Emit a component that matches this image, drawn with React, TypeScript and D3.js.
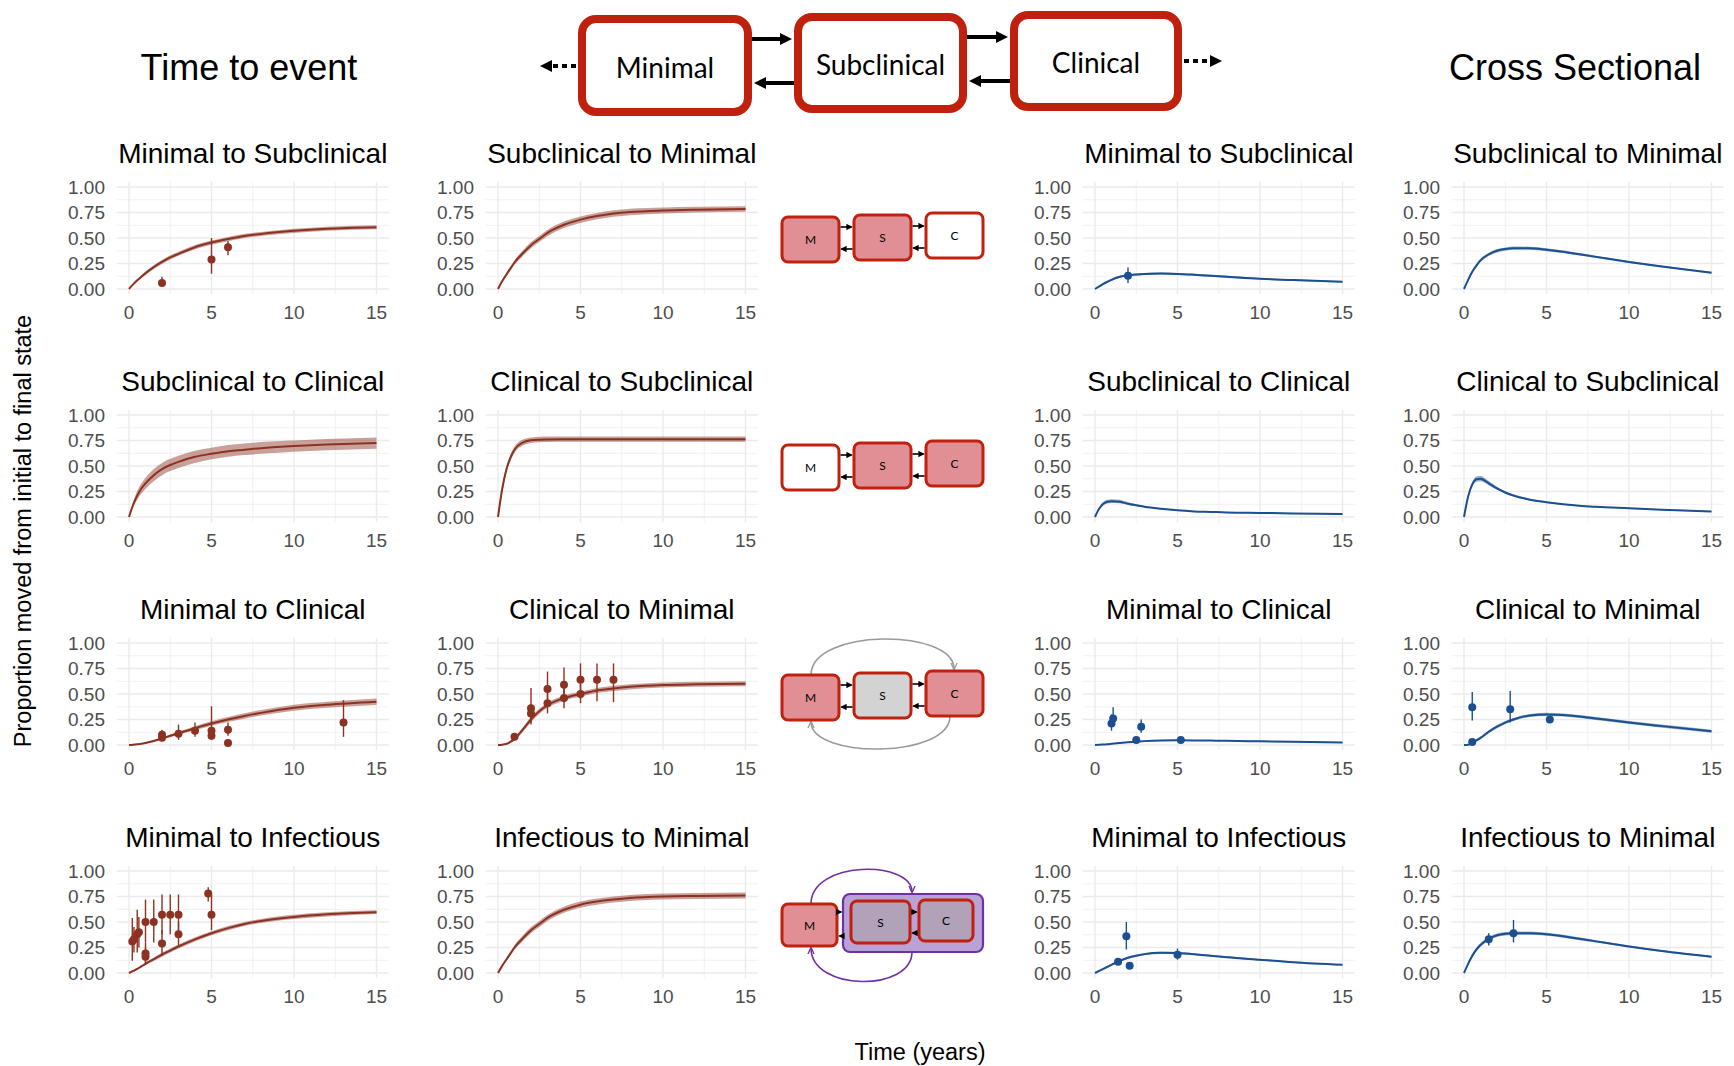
import React from 'react';
import * as d3 from 'd3';

// ---------- data ----------
const tGrid = [0, 0.25, 0.5, 0.75, 1, 1.5, 2, 2.5, 3, 4, 5, 6, 7, 8, 10, 12, 15];
const xTicks = [0, 5, 10, 15];
const yTicks = [0, 0.25, 0.5, 0.75, 1];
const yTickLabels = ['0.00', '0.25', '0.50', '0.75', '1.00'];

// Time to event (red)
const fitMinSubTTE = [0, 0.045, 0.085, 0.12, 0.155, 0.215, 0.265, 0.31, 0.345, 0.41, 0.455, 0.49, 0.52, 0.54, 0.57, 0.59, 0.605];
const loMinSubTTE = [0, 0.038, 0.073, 0.105, 0.137, 0.196, 0.246, 0.29, 0.325, 0.389, 0.434, 0.469, 0.499, 0.52, 0.55, 0.57, 0.585];
const hiMinSubTTE = [0, 0.052, 0.097, 0.135, 0.173, 0.234, 0.284, 0.33, 0.365, 0.431, 0.476, 0.511, 0.541, 0.56, 0.59, 0.61, 0.625];
const ptsMinSubTTE = [[2, 0.06, 0.02, 0.12], [5, 0.29, 0.15, 0.5], [6, 0.41, 0.33, 0.47]];

const fitSubMinTTE = [0, 0.075, 0.14, 0.2, 0.26, 0.35, 0.43, 0.49, 0.55, 0.63, 0.68, 0.715, 0.74, 0.755, 0.77, 0.778, 0.785];
const loSubMinTTE = [0, 0.066, 0.125, 0.182, 0.237, 0.322, 0.4, 0.46, 0.518, 0.598, 0.648, 0.684, 0.709, 0.724, 0.741, 0.75, 0.758];
const hiSubMinTTE = [0, 0.084, 0.155, 0.218, 0.283, 0.378, 0.46, 0.52, 0.582, 0.662, 0.712, 0.746, 0.771, 0.786, 0.799, 0.806, 0.812];

const fitSubClinTTE = [0, 0.12, 0.21, 0.28, 0.33, 0.41, 0.47, 0.51, 0.54, 0.59, 0.62, 0.645, 0.66, 0.675, 0.695, 0.71, 0.725];
const loSubClinTTE = [0, 0.095, 0.17, 0.23, 0.275, 0.35, 0.41, 0.45, 0.48, 0.53, 0.565, 0.59, 0.607, 0.62, 0.64, 0.655, 0.67];
const hiSubClinTTE = [0, 0.15, 0.255, 0.33, 0.385, 0.47, 0.53, 0.57, 0.6, 0.65, 0.68, 0.705, 0.72, 0.735, 0.75, 0.765, 0.78];

const fitClinSubTTE = [0, 0.27, 0.46, 0.58, 0.66, 0.73, 0.752, 0.758, 0.76, 0.762, 0.762, 0.762, 0.762, 0.762, 0.762, 0.762, 0.762];
const loClinSubTTE = [0, 0.24, 0.43, 0.55, 0.63, 0.7, 0.725, 0.733, 0.735, 0.737, 0.737, 0.737, 0.737, 0.737, 0.737, 0.737, 0.737];
const hiClinSubTTE = [0, 0.3, 0.49, 0.61, 0.69, 0.76, 0.78, 0.786, 0.788, 0.79, 0.79, 0.79, 0.79, 0.79, 0.79, 0.79, 0.79];

const fitMinClinTTE = [0, 0.003, 0.007, 0.012, 0.02, 0.04, 0.065, 0.09, 0.115, 0.165, 0.21, 0.25, 0.285, 0.315, 0.365, 0.395, 0.425];
const loMinClinTTE = [0, 0.002, 0.005, 0.009, 0.015, 0.032, 0.055, 0.077, 0.1, 0.145, 0.188, 0.226, 0.258, 0.288, 0.335, 0.365, 0.393];
const hiMinClinTTE = [0, 0.004, 0.009, 0.015, 0.025, 0.048, 0.075, 0.103, 0.13, 0.185, 0.232, 0.274, 0.312, 0.342, 0.395, 0.425, 0.457];
const ptsMinClinTTE = [
  [2, 0.1, 0.05, 0.15], [2, 0.07, 0.04, 0.11], [3, 0.11, 0.05, 0.2], [4, 0.14, 0.08, 0.22],
  [5, 0.14, 0.05, 0.38], [5, 0.09, 0.05, 0.14], [6, 0.15, 0.09, 0.22], [6, 0.02, 0.0, 0.04], [13, 0.22, 0.08, 0.44],
];

const fitClinMinTTE = [0, 0.003, 0.01, 0.03, 0.06, 0.15, 0.25, 0.33, 0.39, 0.46, 0.5, 0.535, 0.555, 0.57, 0.588, 0.595, 0.6];
const loClinMinTTE = [0, 0.002, 0.007, 0.022, 0.045, 0.128, 0.225, 0.305, 0.365, 0.435, 0.475, 0.51, 0.53, 0.545, 0.563, 0.57, 0.575];
const hiClinMinTTE = [0, 0.004, 0.013, 0.038, 0.075, 0.172, 0.275, 0.355, 0.415, 0.485, 0.525, 0.56, 0.58, 0.595, 0.613, 0.62, 0.625];
const ptsClinMinTTE = [
  [1, 0.08, 0.05, 0.11], [2, 0.36, 0.2, 0.56], [2, 0.31, 0.22, 0.4], [3, 0.55, 0.38, 0.72], [3, 0.41, 0.31, 0.52],
  [4, 0.59, 0.42, 0.76], [4, 0.46, 0.36, 0.56], [5, 0.64, 0.45, 0.8], [5, 0.5, 0.41, 0.6], [6, 0.64, 0.43, 0.8], [7, 0.64, 0.42, 0.8],
];

const fitMinInfTTE = [0, 0.02, 0.04, 0.065, 0.09, 0.135, 0.18, 0.22, 0.26, 0.33, 0.39, 0.44, 0.48, 0.51, 0.55, 0.575, 0.595];
const loMinInfTTE = [0, 0.015, 0.032, 0.055, 0.077, 0.118, 0.16, 0.2, 0.24, 0.31, 0.37, 0.42, 0.46, 0.49, 0.53, 0.555, 0.578];
const hiMinInfTTE = [0, 0.025, 0.048, 0.075, 0.103, 0.152, 0.2, 0.24, 0.28, 0.35, 0.41, 0.46, 0.5, 0.53, 0.57, 0.595, 0.615];
const ptsMinInfTTE = [
  [0.2, 0.31, 0.12, 0.54], [0.3, 0.33, 0.2, 0.45], [0.5, 0.38, 0.2, 0.62], [0.6, 0.4, 0.25, 0.55],
  [1.0, 0.5, 0.3, 0.72], [1.0, 0.19, 0.1, 0.3], [1.0, 0.16, 0.09, 0.25], [1.5, 0.5, 0.3, 0.72],
  [2.0, 0.57, 0.38, 0.77], [2.0, 0.29, 0.17, 0.42], [2.5, 0.57, 0.38, 0.77], [3.0, 0.57, 0.38, 0.77],
  [3.0, 0.38, 0.27, 0.5], [4.8, 0.78, 0.7, 0.84], [5.0, 0.57, 0.42, 0.77],
];

const fitInfMinTTE = [0, 0.07, 0.13, 0.19, 0.25, 0.34, 0.42, 0.48, 0.54, 0.62, 0.67, 0.7, 0.72, 0.735, 0.75, 0.755, 0.76];
const loInfMinTTE = [0, 0.062, 0.118, 0.172, 0.228, 0.312, 0.39, 0.45, 0.51, 0.59, 0.64, 0.67, 0.69, 0.705, 0.72, 0.725, 0.73];
const hiInfMinTTE = [0, 0.078, 0.142, 0.208, 0.272, 0.368, 0.45, 0.51, 0.57, 0.65, 0.7, 0.73, 0.75, 0.765, 0.78, 0.785, 0.79];

// Cross sectional (blue)
const fitMinSubCS = [0, 0.025, 0.05, 0.07, 0.09, 0.12, 0.135, 0.143, 0.148, 0.151, 0.148, 0.14, 0.13, 0.12, 0.1, 0.088, 0.07];
const loMinSubCS = [0, 0.018, 0.04, 0.06, 0.08, 0.11, 0.125, 0.133, 0.138, 0.141, 0.138, 0.131, 0.121, 0.111, 0.092, 0.08, 0.063];
const hiMinSubCS = [0, 0.032, 0.06, 0.08, 0.1, 0.13, 0.145, 0.153, 0.158, 0.161, 0.158, 0.149, 0.139, 0.129, 0.108, 0.096, 0.077];
const ptsMinSubCS = [[2, 0.13, 0.06, 0.21]];

const fitSubMinCS = [0, 0.09, 0.17, 0.23, 0.28, 0.34, 0.375, 0.392, 0.4, 0.4, 0.385, 0.365, 0.34, 0.315, 0.265, 0.22, 0.16];
const loSubMinCS = [0, 0.08, 0.155, 0.214, 0.264, 0.324, 0.359, 0.376, 0.384, 0.385, 0.371, 0.352, 0.328, 0.304, 0.255, 0.211, 0.152];
const hiSubMinCS = [0, 0.1, 0.185, 0.246, 0.296, 0.356, 0.391, 0.408, 0.416, 0.415, 0.399, 0.378, 0.352, 0.326, 0.275, 0.229, 0.168];

const fitSubClinCS = [0, 0.08, 0.13, 0.15, 0.155, 0.15, 0.13, 0.115, 0.1, 0.08, 0.065, 0.055, 0.05, 0.045, 0.04, 0.035, 0.03];
const loSubClinCS = [0, 0.068, 0.113, 0.132, 0.137, 0.134, 0.118, 0.105, 0.092, 0.074, 0.06, 0.051, 0.046, 0.042, 0.037, 0.032, 0.027];
const hiSubClinCS = [0, 0.092, 0.147, 0.17, 0.175, 0.168, 0.144, 0.126, 0.109, 0.087, 0.071, 0.059, 0.054, 0.048, 0.043, 0.038, 0.033];

const fitClinSubCS = [0, 0.2, 0.32, 0.37, 0.375, 0.33, 0.28, 0.24, 0.21, 0.17, 0.145, 0.125, 0.11, 0.1, 0.085, 0.07, 0.055];
const loClinSubCS = [0, 0.183, 0.297, 0.346, 0.351, 0.312, 0.266, 0.229, 0.2, 0.162, 0.138, 0.119, 0.104, 0.095, 0.08, 0.066, 0.051];
const hiClinSubCS = [0, 0.217, 0.343, 0.398, 0.402, 0.352, 0.296, 0.252, 0.222, 0.18, 0.153, 0.132, 0.116, 0.106, 0.09, 0.075, 0.06];

const fitMinClinCS = [0, 0.002, 0.005, 0.008, 0.012, 0.02, 0.027, 0.033, 0.038, 0.044, 0.046, 0.045, 0.043, 0.041, 0.036, 0.031, 0.025];
const loMinClinCS = [0, 0.0, 0.002, 0.004, 0.007, 0.015, 0.022, 0.028, 0.033, 0.039, 0.041, 0.04, 0.038, 0.036, 0.031, 0.026, 0.02];
const hiMinClinCS = [0, 0.004, 0.008, 0.012, 0.017, 0.025, 0.032, 0.038, 0.043, 0.049, 0.051, 0.05, 0.048, 0.046, 0.041, 0.036, 0.03];
const ptsMinClinCS = [[1.0, 0.21, 0.14, 0.3], [1.1, 0.26, 0.18, 0.37], [2.5, 0.05, 0.02, 0.08], [2.8, 0.18, 0.12, 0.25], [5.2, 0.05, 0.03, 0.07]];

const fitClinMinCS = [0, 0.003, 0.02, 0.045, 0.07, 0.13, 0.18, 0.22, 0.25, 0.29, 0.3, 0.295, 0.28, 0.26, 0.22, 0.185, 0.135];
const loClinMinCS = [0, 0.0, 0.01, 0.032, 0.056, 0.115, 0.165, 0.205, 0.235, 0.275, 0.285, 0.28, 0.265, 0.245, 0.205, 0.17, 0.12];
const hiClinMinCS = [0, 0.006, 0.03, 0.058, 0.084, 0.145, 0.195, 0.235, 0.265, 0.305, 0.315, 0.31, 0.295, 0.275, 0.235, 0.2, 0.15];
const ptsClinMinCS = [[0.5, 0.37, 0.24, 0.52], [0.5, 0.03, 0.0, 0.06], [2.8, 0.35, 0.22, 0.53], [5.2, 0.25, 0.23, 0.27]];

const fitMinInfCS = [0, 0.02, 0.04, 0.06, 0.08, 0.12, 0.15, 0.17, 0.185, 0.198, 0.195, 0.185, 0.17, 0.155, 0.13, 0.105, 0.08];
const loMinInfCS = [0, 0.014, 0.031, 0.05, 0.07, 0.109, 0.139, 0.159, 0.174, 0.187, 0.185, 0.176, 0.162, 0.147, 0.123, 0.098, 0.073];
const hiMinInfCS = [0, 0.026, 0.049, 0.07, 0.09, 0.131, 0.161, 0.181, 0.196, 0.209, 0.205, 0.194, 0.178, 0.163, 0.137, 0.112, 0.087];
const ptsMinInfCS = [[1.4, 0.11, 0.08, 0.14], [1.9, 0.36, 0.23, 0.5], [2.1, 0.07, 0.05, 0.09], [5.0, 0.18, 0.13, 0.24]];

const fitInfMinCS = [0, 0.09, 0.17, 0.23, 0.275, 0.335, 0.37, 0.385, 0.39, 0.39, 0.38, 0.36, 0.335, 0.31, 0.26, 0.215, 0.16];
const loInfMinCS = [0, 0.078, 0.153, 0.212, 0.257, 0.317, 0.352, 0.368, 0.373, 0.374, 0.365, 0.346, 0.322, 0.298, 0.25, 0.206, 0.152];
const hiInfMinCS = [0, 0.102, 0.187, 0.248, 0.293, 0.353, 0.388, 0.402, 0.407, 0.406, 0.395, 0.374, 0.348, 0.322, 0.27, 0.224, 0.168];
const ptsInfMinCS = [[1.5, 0.33, 0.27, 0.39], [3.0, 0.39, 0.3, 0.52]];

const titlesTTE = ['Minimal to Subclinical', 'Subclinical to Minimal', 'Subclinical to Clinical', 'Clinical to Subclinical',
  'Minimal to Clinical', 'Clinical to Minimal', 'Minimal to Infectious', 'Infectious to Minimal'];

// ---------- layout ----------
const W = 1734, H = 1066;
const colX0 = [129, 498, 1095, 1464];
const rowY1 = [187, 415, 643, 871];
const PW = 247.5; // 0..15
const PH = 102;   // 0..1
const RED = '#8B3222';
const BLUE = '#1B4F8F';
const FONT = 'Liberation Sans, Arial, Helvetica, sans-serif';
const BOXRED = '#C0200E';

type Pt = number[];
type PanelDef = { title: string; col: number; row: number; fit: number[]; lo: number[]; hi: number[]; pts: Pt[]; color: string };

const panels: PanelDef[] = [
  { title: titlesTTE[0], col: 0, row: 0, fit: fitMinSubTTE, lo: loMinSubTTE, hi: hiMinSubTTE, pts: ptsMinSubTTE, color: RED },
  { title: titlesTTE[1], col: 1, row: 0, fit: fitSubMinTTE, lo: loSubMinTTE, hi: hiSubMinTTE, pts: [], color: RED },
  { title: titlesTTE[2], col: 0, row: 1, fit: fitSubClinTTE, lo: loSubClinTTE, hi: hiSubClinTTE, pts: [], color: RED },
  { title: titlesTTE[3], col: 1, row: 1, fit: fitClinSubTTE, lo: loClinSubTTE, hi: hiClinSubTTE, pts: [], color: RED },
  { title: titlesTTE[4], col: 0, row: 2, fit: fitMinClinTTE, lo: loMinClinTTE, hi: hiMinClinTTE, pts: ptsMinClinTTE, color: RED },
  { title: titlesTTE[5], col: 1, row: 2, fit: fitClinMinTTE, lo: loClinMinTTE, hi: hiClinMinTTE, pts: ptsClinMinTTE, color: RED },
  { title: titlesTTE[6], col: 0, row: 3, fit: fitMinInfTTE, lo: loMinInfTTE, hi: hiMinInfTTE, pts: ptsMinInfTTE, color: RED },
  { title: titlesTTE[7], col: 1, row: 3, fit: fitInfMinTTE, lo: loInfMinTTE, hi: hiInfMinTTE, pts: [], color: RED },
  { title: titlesTTE[0], col: 2, row: 0, fit: fitMinSubCS, lo: loMinSubCS, hi: hiMinSubCS, pts: ptsMinSubCS, color: BLUE },
  { title: titlesTTE[1], col: 3, row: 0, fit: fitSubMinCS, lo: loSubMinCS, hi: hiSubMinCS, pts: [], color: BLUE },
  { title: titlesTTE[2], col: 2, row: 1, fit: fitSubClinCS, lo: loSubClinCS, hi: hiSubClinCS, pts: [], color: BLUE },
  { title: titlesTTE[3], col: 3, row: 1, fit: fitClinSubCS, lo: loClinSubCS, hi: hiClinSubCS, pts: [], color: BLUE },
  { title: titlesTTE[4], col: 2, row: 2, fit: fitMinClinCS, lo: loMinClinCS, hi: hiMinClinCS, pts: ptsMinClinCS, color: BLUE },
  { title: titlesTTE[5], col: 3, row: 2, fit: fitClinMinCS, lo: loClinMinCS, hi: hiClinMinCS, pts: ptsClinMinCS, color: BLUE },
  { title: titlesTTE[6], col: 2, row: 3, fit: fitMinInfCS, lo: loMinInfCS, hi: hiMinInfCS, pts: ptsMinInfCS, color: BLUE },
  { title: titlesTTE[7], col: 3, row: 3, fit: fitInfMinCS, lo: loInfMinCS, hi: hiInfMinCS, pts: ptsInfMinCS, color: BLUE },
];

function Panel({ p }: { p: PanelDef }) {
  const x0 = colX0[p.col];
  const y1 = rowY1[p.row];
  const x = d3.scaleLinear().domain([0, 15]).range([x0, x0 + PW]);
  const y = d3.scaleLinear().domain([0, 1]).range([y1 + PH, y1]);
  const xl = x(-0.75), xr = x(15.75), yb = y(-0.05), yt = y(1.05);
  const area = d3.area<number>().x((_, i) => x(tGrid[i])).y0((_, i) => y(p.lo[i])).y1((_, i) => y(p.hi[i])).curve(d3.curveMonotoneX);
  const line = d3.line<number>().x((_, i) => x(tGrid[i])).y((d) => y(d)).curve(d3.curveMonotoneX);
  const minorX = [2.5, 7.5, 12.5];
  const minorY = [0.125, 0.375, 0.625, 0.875];
  return (
    <g>
      {minorX.map((v) => <line key={'mx' + v} x1={x(v)} x2={x(v)} y1={yb} y2={yt} stroke="#ebebeb" strokeWidth={0.7} />)}
      {minorY.map((v) => <line key={'my' + v} x1={xl} x2={xr} y1={y(v)} y2={y(v)} stroke="#ebebeb" strokeWidth={0.7} />)}
      {xTicks.map((v) => <line key={'gx' + v} x1={x(v)} x2={x(v)} y1={yb} y2={yt} stroke="#ebebeb" strokeWidth={1.4} />)}
      {yTicks.map((v) => <line key={'gy' + v} x1={xl} x2={xr} y1={y(v)} y2={y(v)} stroke="#ebebeb" strokeWidth={1.4} />)}
      <path d={area(p.fit) || ''} fill={p.color} fillOpacity={0.46} />
      <path d={line(p.fit) || ''} fill="none" stroke={p.color} strokeWidth={2} />
      {p.pts.map((q, i) => (
        <g key={'p' + i}>
          <line x1={x(q[0])} x2={x(q[0])} y1={y(q[2])} y2={y(q[3])} stroke={p.color} strokeWidth={1.4} />
          <circle cx={x(q[0])} cy={y(q[1])} r={4} fill={p.color} />
        </g>
      ))}
      {yTicks.map((v, i) => (
        <text key={'yl' + v} x={x0 - 24} y={y(v)} textAnchor="end" dominantBaseline="central" fontSize={19} fill="#4d4d4d" fontFamily={FONT}>{yTickLabels[i]}</text>
      ))}
      {xTicks.map((v) => (
        <text key={'xl' + v} x={x(v)} y={y1 + PH + 23} textAnchor="middle" dominantBaseline="central" fontSize={19} fill="#4d4d4d" fontFamily={FONT}>{v}</text>
      ))}
      <text x={(xl + xr) / 2} y={y1 - 24} textAnchor="middle" fontSize={28} fill="#000" fontFamily={FONT}>{p.title}</text>
    </g>
  );
}

const DFONT = 'Lato, Open Sans, sans-serif';

function SmallBox({ x, y, w, h, fill, label, stroke = BOXRED }: any) {
  return (
    <g>
      <rect x={x} y={y} width={w} height={h} rx={6} fill={fill} stroke={stroke} strokeWidth={3} />
      <text x={x + w / 2} y={y + h / 2} textAnchor="middle" dominantBaseline="central" fontSize={12} fontFamily={DFONT} fill="#000">{label}</text>
    </g>
  );
}

function PairArrows({ xa, xb, yTop, yBot, sw = 1.6, mk = 'ahS' }: any) {
  return (
    <g>
      <line x1={xa} x2={xb - 1} y1={yTop} y2={yTop} stroke="#000" strokeWidth={sw} markerEnd={`url(#${mk})`} />
      <line x1={xb} x2={xa + 1} y1={yBot} y2={yBot} stroke="#000" strokeWidth={sw} markerEnd={`url(#${mk})`} />
    </g>
  );
}

const PINK = '#E09095';
const GRAYF = '#D3D3D3';
const PURPLE = '#7030A0';

function SmallDiagram({ kind, top }: { kind: number; top: number }) {
  const fills = kind === 0 ? [PINK, PINK, '#fff'] : kind === 1 ? ['#fff', PINK, PINK] : [PINK, GRAYF, PINK];
  if (kind < 3) {
    const bx = [[782, top + 4], [854, top + 2], [926, top]];
    const w = 57, h = 45;
    return (
      <g>
        {kind === 2 && (
          <g>
            <path d={`M ${bx[0][0] + 29} ${bx[0][1]} C ${bx[0][0] + 29} ${top - 43}, ${bx[2][0] + 28} ${top - 43}, ${bx[2][0] + 28} ${bx[2][1] - 2}`} fill="none" stroke="#9a9a9a" strokeWidth={1.6} markerEnd="url(#ahG)" />
            <path d={`M ${bx[2][0] + 24} ${bx[2][1] + h} C ${bx[2][0] + 24} ${top + h + 43}, ${bx[0][0] + 29} ${top + h + 43}, ${bx[0][0] + 29} ${bx[0][1] + h + 2}`} fill="none" stroke="#9a9a9a" strokeWidth={1.6} markerEnd="url(#ahG)" />
          </g>
        )}
        {bx.map((b, i) => <SmallBox key={i} x={b[0]} y={b[1]} w={w} h={h} fill={fills[i]} label={['M', 'S', 'C'][i]} />)}
        <PairArrows xa={bx[0][0] + w + 1.5} xb={bx[1][0] - 1.5} yTop={top + 14} yBot={top + 36} />
        <PairArrows xa={bx[1][0] + w + 1.5} xb={bx[2][0] - 1.5} yTop={top + 13} yBot={top + 35} />
      </g>
    );
  }
  // kind 3: infectious
  return (
    <g>
      <path d={`M 811 ${top + 4} C 811 ${top - 40}, 912 ${top - 40}, 912 ${top - 8}`} fill="none" stroke={PURPLE} strokeWidth={1.6} markerEnd="url(#ahP)" />
      <path d={`M 912 ${top + 52} C 912 ${top + 92}, 811 ${top + 92}, 811 ${top + 48}`} fill="none" stroke={PURPLE} strokeWidth={1.6} markerEnd="url(#ahP)" />
      <rect x={843} y={top - 6} width={140} height={58} rx={7} fill="#B9A3D6" stroke={PURPLE} strokeWidth={2.2} />
      <SmallBox x={782} y={top + 4} w={55} h={42} fill={PINK} label="M" />
      <SmallBox x={851} y={top + 1} w={59} h={42} fill="#B1A1B9" label="S" />
      <SmallBox x={919} y={top} w={54} h={41} fill="#B1A1B9" label="C" />
      <PairArrows xa={838.5} xb={842} yTop={top + 12} yBot={top + 36} />
      <PairArrows xa={911.5} xb={917.5} yTop={top + 12} yBot={top + 33} />
    </g>
  );
}

function BigDiagram() {
  const boxes = [
    { x: 578, y: 15, w: 174, h: 101, label: 'Minimal' },
    { x: 794, y: 13, w: 173, h: 100, label: 'Subclinical' },
    { x: 1010, y: 11, w: 172, h: 100, label: 'Clinical' },
  ];
  return (
    <g>
      {boxes.map((b) => (
        <g key={b.label}>
          <rect x={b.x + 4} y={b.y + 4} width={b.w - 8} height={b.h - 8} rx={14} fill="#fff" stroke={BOXRED} strokeWidth={8} />
          <text x={b.x + b.w / 2} y={b.y + b.h / 2 + 1} textAnchor="middle" dominantBaseline="central" fontSize={28} fontFamily={DFONT} fill="#000">{b.label}</text>
        </g>
      ))}
      <line x1={752} x2={786} y1={39} y2={39} stroke="#000" strokeWidth={4} markerEnd="url(#ahB)" />
      <line x1={794} x2={760} y1={83} y2={83} stroke="#000" strokeWidth={4} markerEnd="url(#ahB)" />
      <line x1={967} x2={1002} y1={37} y2={37} stroke="#000" strokeWidth={4} markerEnd="url(#ahB)" />
      <line x1={1010} x2={975} y1={81} y2={81} stroke="#000" strokeWidth={4} markerEnd="url(#ahB)" />
      <line x1={576} x2={546} y1={66} y2={66} stroke="#000" strokeWidth={4} strokeDasharray="5,4" markerEnd="url(#ahB)" />
      <line x1={1184} x2={1216} y1={61} y2={61} stroke="#000" strokeWidth={4} strokeDasharray="5,4" markerEnd="url(#ahB)" />
    </g>
  );
}

export default function App() {
  return (
    <svg width={W} height={H} style={{ position: 'absolute', left: 0, top: 0, background: '#fff' }} xmlns="http://www.w3.org/2000/svg">
      <defs>
        <marker id="ahS" viewBox="0 0 10 10" refX="8" refY="5" markerWidth="4" markerHeight="4" orient="auto-start-reverse" markerUnits="strokeWidth">
          <path d="M0,0 L10,5 L0,10 z" fill="#000" />
        </marker>
        <marker id="ahB" viewBox="0 0 10 10" refX="5" refY="5" markerWidth="3" markerHeight="3" orient="auto" markerUnits="strokeWidth">
          <path d="M0,0 L10,5 L0,10 z" fill="#000" />
        </marker>
        <marker id="ahG" viewBox="0 0 10 10" refX="8" refY="5" markerWidth="5" markerHeight="5" orient="auto" markerUnits="strokeWidth">
          <path d="M0,1 L9,5 L0,9" fill="none" stroke="#9a9a9a" strokeWidth={1.6} />
        </marker>
        <marker id="ahP" viewBox="0 0 10 10" refX="8" refY="5" markerWidth="5" markerHeight="5" orient="auto" markerUnits="strokeWidth">
          <path d="M0,1 L9,5 L0,9" fill="none" stroke={PURPLE} strokeWidth={1.6} />
        </marker>
      </defs>
      <rect x={0} y={0} width={W} height={H} fill="#fff" />
      <text x={249} y={67} textAnchor="middle" dominantBaseline="central" fontSize={36} fontFamily={FONT} fill="#000">Time to event</text>
      <text x={1575} y={67} textAnchor="middle" dominantBaseline="central" fontSize={36} fontFamily={FONT} fill="#000">Cross Sectional</text>
      <BigDiagram />
      {panels.map((p, i) => <Panel key={i} p={p} />)}
      <SmallDiagram kind={0} top={213} />
      <SmallDiagram kind={1} top={441} />
      <SmallDiagram kind={2} top={671} />
      <SmallDiagram kind={3} top={900} />
      <text transform={`translate(23,531) rotate(-90)`} textAnchor="middle" dominantBaseline="central" fontSize={23.5} fontFamily={FONT} fill="#000">Proportion moved from initial to final state</text>
      <text x={920} y={1052} textAnchor="middle" dominantBaseline="central" fontSize={23.5} fontFamily={FONT} fill="#000">Time (years)</text>
    </svg>
  );
}
